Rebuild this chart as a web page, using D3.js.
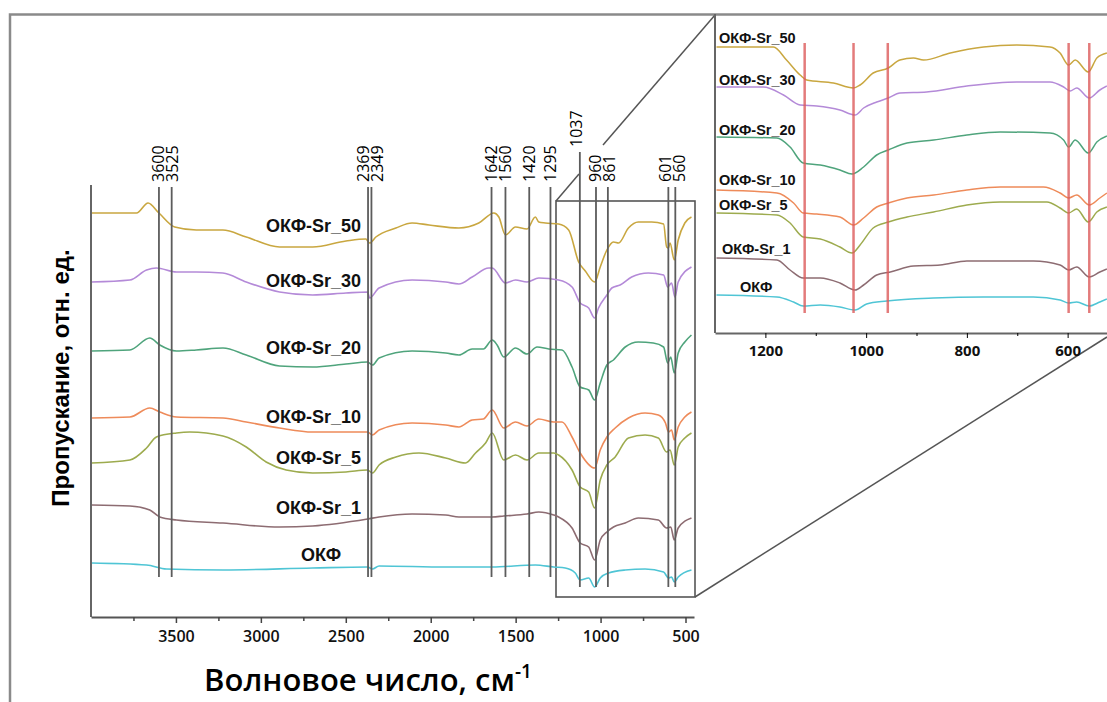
<!DOCTYPE html>
<html>
<head>
<meta charset="utf-8">
<script src="https://cdn.jsdelivr.net/npm/d3@7"></script>
<style>
  body { margin: 0; background: #fff; }
  svg { display: block; font-family: "Liberation Sans", Arial, sans-serif; }
</style>
</head>
<body>
<script>
// series names (top to bottom)
const seriesNames = ["ОКФ-Sr_50", "ОКФ-Sr_30", "ОКФ-Sr_20", "ОКФ-Sr_10", "ОКФ-Sr_5", "ОКФ-Sr_1", "ОКФ"];

// full spectra, [wavenumber cm-1, transmittance a.u. incl. offset]
const sr50 = [[3996,404],[3732,404],[3664,414],[3600,404],[3507,390],[3380,387],[3224,387],[3086,380],[2890,370],[2695,370],[2499,376],[2382,378],[2360,374],[2323,380],[2205,389],[2110,394],[2010,392],[1834,389],[1717,394],[1628,404],[1599,400],[1560,382],[1501,390],[1433,388],[1384,400],[1364,395],[1325,394],[1247,393],[1188,387],[1129,355],[1090,346],[1035,335],[1002,350],[963,367],[924,375],[894,374],[836,389],[778,395],[738,395],[699,395],[629,393],[611,370],[601,369],[591,374],[566,357],[543,377],[504,394],[465,400]];
const sr30 = [[3996,335],[3771,337],[3673,347],[3615,349],[3497,345],[3380,345],[3224,344],[3086,335],[2890,325],[2695,322],[2499,324],[2372,325],[2360,319],[2304,329],[2110,337],[1912,335],[1834,333],[1756,340],[1658,349],[1638,349],[1560,334],[1501,337],[1433,335],[1364,339],[1247,337],[1168,330],[1120,314],[1070,309],[1035,299],[1012,309],[963,322],[934,329],[885,332],[817,340],[719,344],[629,342],[605,330],[582,334],[562,320],[543,335],[465,350]];
const sr20 = [[3996,266],[3771,267],[3654,279],[3595,272],[3497,266],[3380,267],[3223,269],[3086,262],[2890,251],[2695,250],[2499,253],[2372,255],[2343,252],[2304,259],[2110,266],[1912,264],[1834,262],[1756,268],[1690,268],[1638,277],[1609,272],[1570,260],[1501,269],[1433,263],[1374,270],[1305,268],[1227,267],[1168,250],[1120,230],[1070,227],[1035,217],[1002,234],[963,252],[924,257],[855,270],[778,275],[690,274],[629,270],[605,254],[587,260],[566,244],[543,264],[504,275],[465,282]];
const sr10 = [[3996,199],[3771,200],[3654,209],[3595,205],[3497,200],[3223,199],[3086,195],[2890,189],[2695,185],[2499,185],[2372,185],[2343,182],[2304,187],[2110,194],[1912,192],[1834,190],[1756,197],[1690,198],[1638,207],[1570,189],[1501,195],[1433,191],[1364,198],[1276,195],[1227,195],[1168,180],[1120,164],[1035,149],[1002,167],[963,180],[914,189],[836,199],[738,204],[660,202],[618,194],[600,185],[582,187],[566,177],[543,190],[504,200],[465,205]];
const sr5 = [[3996,154],[3771,157],[3673,169],[3615,180],[3497,184],[3419,185],[3223,181],[3086,170],[2969,155],[2851,147],[2695,144],[2499,145],[2372,147],[2343,144],[2304,152],[2205,160],[2069,164],[1912,159],[1795,154],[1736,164],[1677,174],[1638,184],[1570,157],[1501,162],[1433,157],[1364,164],[1276,164],[1247,162],[1168,147],[1120,130],[1070,125],[1035,109],[1002,137],[963,152],[914,160],[836,179],[738,182],[660,179],[611,165],[591,167],[566,152],[543,170],[504,179],[465,184]];
const sr1 = [[3996,112],[3771,111],[3654,107],[3595,100],[3497,97],[3223,94],[2890,90],[2695,91],[2372,98],[2304,100],[2110,103],[1912,102],[1834,100],[1717,100],[1638,100],[1570,101],[1433,103],[1364,105],[1276,102],[1247,100],[1168,89],[1120,74],[1070,70],[1035,57],[1002,77],[963,85],[924,90],[855,94],[778,99],[660,97],[611,89],[587,90],[566,77],[543,89],[465,99]];
const okf = [[3996,54],[3673,52],[3556,48],[3223,47],[2695,49],[2372,50],[2343,48],[2304,51],[1912,50],[1638,50],[1384,52],[1276,50],[1208,49],[1149,44],[1120,37],[1070,39],[1035,30],[1002,39],[953,44],[855,47],[738,48],[629,45],[600,39],[582,40],[566,35],[543,40],[465,47]];

// zoomed region 1300-500 cm-1 (inset), same order
const sr50Zoom = [[1297,286],[1184,286],[1158,273],[1131,258],[1118,253],[1065,250],[1025,245],[1012,248],[986,260],[956,265],[933,273],[906,275],[886,273],[833,280],[767,286],[701,288],[635,286],[615,280],[598,268],[585,273],[559,261],[542,275],[522,280]];
const sr30Zoom = [[1297,246],[1204,246],[1164,238],[1131,228],[1098,227],[1052,223],[1022,218],[1005,225],[979,231],[956,235],[933,240],[880,241],[800,247],[701,251],[635,251],[608,246],[595,242],[582,245],[557,235],[536,243],[522,247]];
const sr20Zoom = [[1297,196],[1177,195],[1151,186],[1125,170],[1091,168],[1052,163],[1028,159],[1005,166],[979,178],[956,183],[919,190],[866,193],[800,198],[734,201],[635,200],[608,193],[598,186],[585,193],[559,180],[542,191],[522,197]];
const sr10Zoom = [[1297,143],[1177,140],[1144,130],[1125,120],[1098,119],[1052,116],[1025,108],[1005,115],[979,126],[956,130],[919,135],[866,138],[800,143],[734,146],[648,146],[615,140],[598,135],[582,138],[557,128],[536,135],[522,140]];
const sr5Zoom = [[1297,120],[1177,118],[1151,110],[1125,96],[1091,94],[1052,86],[1028,80],[1012,88],[986,105],[956,111],[919,116],[866,121],[800,128],[734,131],[641,131],[615,125],[598,120],[582,124],[559,111],[542,121],[522,126]];
const sr1Zoom = [[1297,75],[1177,73],[1151,63],[1125,55],[1091,55],[1052,50],[1022,43],[1005,48],[979,58],[952,61],[906,67],[853,68],[800,72],[668,72],[615,68],[598,63],[582,66],[557,56],[536,61],[522,64]];
const okfZoom = [[1297,38],[1177,36],[1144,31],[1125,27],[1091,28],[1052,26],[1022,23],[999,29],[959,32],[866,35],[767,36],[668,36],[615,33],[598,30],[582,31],[557,27],[536,31],[522,34]];

// marked bands
const peakPos = [3600, 3525, 2369, 2349, 1642, 1560, 1420, 1295, 1122, 1027, 957, 601, 560];
const peakLabels = ["3600", "3525", "2369", "2349", "1642", "1560", "1420", "1295", "1037", "960", "861", "601", "560"];
const zoomPeakPos = [1122, 1025, 957, 598, 557];

// tick labels
const mainTicks = [3500, 3000, 2500, 2000, 1500, 1000, 500];
const zoomTicks = [1200, 1000, 800, 600];

// main function
function main() {
    var spectra = [sr50, sr30, sr20, sr10, sr5, sr1, okf];
    var zoomSpectra = [sr50Zoom, sr30Zoom, sr20Zoom, sr10Zoom, sr5Zoom, sr1Zoom, okfZoom];
    var colors = ["#c9a740", "#b48ad8", "#4fa47c", "#ee8b5a", "#9dab4e", "#8d6c72", "#4fc5d5"];

    var svg = d3.select("body").append("svg")
        .attr("width", 1107)
        .attr("height", 702);

    // outer frame
    svg.append("path")
        .attr("d", "M10,702 L10,14.5 L1107,14.5")
        .attr("fill", "none")
        .attr("stroke", "#8a8a8a")
        .attr("stroke-width", 2.5);

    drawMain(svg, spectra, colors);
    drawZoom(svg, zoomSpectra, colors);
}

function drawMain(svg, spectra, colors) {
    var x = d3.scaleLinear().domain([4000, 450]).range([91, 694]);
    var y = d3.scaleLinear().domain([0, 432]).range([617, 185]);

    var line = d3.line()
        .x(function(d) { return x(d[0]); })
        .y(function(d) { return y(d[1]); })
        .curve(d3.curveMonotoneX);

    // box around the zoomed region + connector lines
    svg.append("rect")
        .attr("x", 556).attr("y", 201)
        .attr("width", 139).attr("height", 396)
        .attr("fill", "none")
        .attr("stroke", "#555")
        .attr("stroke-width", 1.6);
    svg.append("line")
        .attr("x1", 556).attr("y1", 201).attr("x2", 579).attr("y2", 174)
        .attr("stroke", "#555").attr("stroke-width", 1.5);
    svg.append("line")
        .attr("x1", 603).attr("y1", 145).attr("x2", 715).attr("y2", 15)
        .attr("stroke", "#555").attr("stroke-width", 1.5);
    svg.append("line")
        .attr("x1", 695).attr("y1", 597).attr("x2", 1107).attr("y2", 337)
        .attr("stroke", "#555").attr("stroke-width", 1.5);

    // spectra
    svg.append("g").selectAll("path")
        .data(spectra)
        .enter().append("path")
        .attr("d", line)
        .attr("fill", "none")
        .attr("stroke", function(d, i) { return colors[i]; })
        .attr("stroke-width", 1.6);

    // band lines
    var peaks = peakPos.map(function(p, i) {
        return { x: x(p), lx: x(p), label: peakLabels[i], raised: peakLabels[i] == "1037", inBox: p < 1200 };
    });
    // spread labels that are too close
    var flat = peaks.filter(function(p) { return !p.raised; });
    for (var i = 1; i < flat.length; i++) {
        var gap = flat[i].lx - flat[i - 1].lx;
        if (gap < 14) {
            var shift = (14 - gap) / 2;
            flat[i - 1].lx -= shift;
            flat[i].lx += shift;
        }
    }

    svg.append("g").selectAll("line")
        .data(peaks)
        .enter().append("line")
        .attr("x1", function(d) { return d.x; })
        .attr("x2", function(d) { return d.x; })
        .attr("y1", function(d) { return d.raised ? 152 : 187; })
        .attr("y2", function(d) { return d.inBox ? 587 : 577; })
        .attr("stroke", "#5c5c5c")
        .attr("stroke-width", 1.8);

    svg.append("g").selectAll("text")
        .data(peaks)
        .enter().append("text")
        .attr("transform", function(d) {
            return "translate(" + (d.raised ? d.lx - 4 : d.lx) + "," + (d.raised ? 147 : 182) + ") rotate(-90)";
        })
        .attr("dominant-baseline", "central")
        .attr("font-family", "'Open Sans', sans-serif")
        .attr("font-size", 16)
        .attr("fill", "#000")
        .text(function(d) { return d.label; });

    // series labels
    var labelY = [391, 336, 269, 200, 159, 109, 62];
    svg.append("g").selectAll("text")
        .data(seriesNames)
        .enter().append("text")
        .attr("x", function(d, i) { return i == 6 ? x(2646) : x(2410); })
        .attr("y", function(d, i) { return y(labelY[i]); })
        .attr("text-anchor", function(d, i) { return i == 6 ? "middle" : "end"; })
        .attr("dominant-baseline", "central")
        .attr("font-size", 18)
        .attr("font-weight", "bold")
        .attr("fill", "#111")
        .text(function(d) { return d; });

    // y axis (no ticks)
    svg.append("line")
        .attr("x1", 91).attr("x2", 91).attr("y1", 185).attr("y2", 617)
        .attr("stroke", "#666").attr("stroke-width", 2);

    // x axis
    var xAxis = svg.append("g")
        .attr("transform", "translate(0,617)")
        .call(d3.axisBottom(x).tickValues(mainTicks).tickSize(6).tickSizeOuter(0).tickPadding(8).tickFormat(d3.format("d")));
    svg.append("g")
        .attr("transform", "translate(0,617)")
        .call(d3.axisBottom(x).tickValues([3750, 3250, 2750, 2250, 1750, 1250, 750]).tickSize(4).tickSizeOuter(0).tickFormat(""))
        .select(".domain").remove();
    svg.selectAll(".tick line").attr("stroke", "#444").attr("stroke-width", 1.5);
    xAxis.select(".domain").attr("stroke", "#555").attr("stroke-width", 2);
    xAxis.selectAll("text")
        .attr("font-family", "'Open Sans', sans-serif")
        .attr("font-size", 16)
        .attr("font-weight", 600)
        .attr("fill", "#111");

    // axis titles
    var title = svg.append("text")
        .attr("x", 368).attr("y", 691)
        .attr("text-anchor", "middle")
        .attr("font-family", "'Open Sans', sans-serif")
        .attr("font-size", 31)
        .attr("font-weight", 600)
        .attr("fill", "#000");
    title.append("tspan").text("Волновое число, см");
    title.append("tspan").attr("font-size", 19).attr("dy", -13).text("-1");

    svg.append("text")
        .attr("transform", "translate(60,378) rotate(-90)")
        .attr("text-anchor", "middle")
        .attr("dominant-baseline", "central")
        .attr("font-size", 24)
        .attr("font-weight", "bold")
        .attr("fill", "#000")
        .text("Пропускание, отн. ед.");
}

function drawZoom(svg, zoomSpectra, colors) {
    var x = d3.scaleLinear().domain([1300, 500]).range([715, 1118]);
    var y = d3.scaleLinear().domain([0, 318]).range([333, 15]);

    var line = d3.line()
        .x(function(d) { return x(d[0]); })
        .y(function(d) { return y(d[1]); })
        .curve(d3.curveMonotoneX);

    svg.append("g").selectAll("path")
        .data(zoomSpectra)
        .enter().append("path")
        .attr("d", line)
        .attr("fill", "none")
        .attr("stroke", function(d, i) { return colors[i]; })
        .attr("stroke-width", 1.5);

    // red band lines
    svg.append("g").selectAll("line")
        .data(zoomPeakPos)
        .enter().append("line")
        .attr("x1", function(d) { return x(d); })
        .attr("x2", function(d) { return x(d); })
        .attr("y1", 43).attr("y2", 313)
        .attr("stroke", "#dc5a5a")
        .attr("stroke-opacity", 0.8)
        .attr("stroke-width", 2.5);

    // labels
    var labelPos = [[719, 38], [719, 80], [719, 130], [719, 180], [719, 205], [722, 249], [740, 287]];
    svg.append("g").selectAll("text")
        .data(seriesNames)
        .enter().append("text")
        .attr("x", function(d, i) { return labelPos[i][0]; })
        .attr("y", function(d, i) { return labelPos[i][1]; })
        .attr("dominant-baseline", "central")
        .attr("font-size", 14.5)
        .attr("font-weight", "bold")
        .attr("fill", "#111")
        .text(function(d) { return d; });

    // left border
    svg.append("line")
        .attr("x1", 715).attr("x2", 715).attr("y1", 14).attr("y2", 333)
        .attr("stroke", "#666").attr("stroke-width", 2);

    var axis = svg.append("g")
        .attr("transform", "translate(0,333)")
        .call(d3.axisBottom(x).tickValues(zoomTicks).tickSize(5).tickSizeOuter(0).tickPadding(7).tickFormat(d3.format("d")));
    svg.append("g")
        .attr("transform", "translate(0,333)")
        .call(d3.axisBottom(x).tickValues([1100, 900, 700]).tickSize(3).tickSizeOuter(0).tickFormat(""))
        .select(".domain").remove();
    axis.select(".domain").attr("stroke", "#666").attr("stroke-width", 2);
    axis.selectAll("text")
        .attr("font-family", "'Open Sans', sans-serif")
        .attr("font-size", 15)
        .attr("font-weight", 700)
        .attr("fill", "#111");
}

main();
</script>
</body>
</html>
